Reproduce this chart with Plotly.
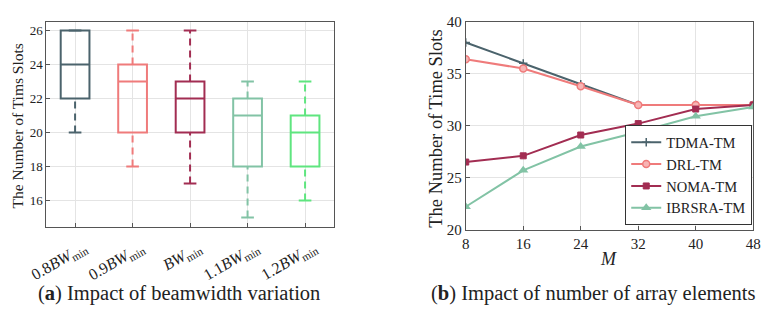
import plotly.graph_objects as go

# ---------- data: panel (a) ----------
box_labels = ["0.8<i>BW</i><sub>min</sub>", "0.9<i>BW</i><sub>min</sub>", "<i>BW</i><sub>min</sub>",
              "1.1<i>BW</i><sub>min</sub>", "1.2<i>BW</i><sub>min</sub>"]
box_pos = [1, 2, 3, 4, 5]
box_low = [20, 18, 17, 15, 16]
box_q1 = [22, 20, 20, 18, 18]
box_med = [24, 23, 22, 21, 20]
box_q3 = [26, 24, 23, 22, 21]
box_high = [26, 26, 26, 23, 23]
box_colors = ["#4b636c", "#ef7b7b", "#a22d52", "#82c3a5", "#5fe57f"]

# ---------- data: panel (b) ----------
M_vals = [8, 16, 24, 32, 40, 48]
tdma = [38.0, 36.0, 34.0, 32.0, 32.0, 32.0]
drl = [36.4, 35.5, 33.8, 32.0, 32.0, 32.0]
noma = [26.5, 27.1, 29.1, 30.2, 31.6, 32.0]
ibrsra = [22.2, 25.7, 28.0, 29.4, 30.9, 31.8]

FONT = "Liberation Serif, serif"
W, H = 775, 314
fig = go.Figure()

cap_half = 0.11
for i, p in enumerate(box_pos):
    c = box_colors[i]
    fig.add_trace(go.Box(
        x=[p], q1=[box_q1[i]], median=[box_med[i]], q3=[box_q3[i]],
        lowerfence=[box_q1[i]], upperfence=[box_q3[i]],
        width=0.5, whiskerwidth=0, fillcolor="rgba(0,0,0,0)",
        line=dict(color=c, width=2), showlegend=False, hoverinfo="skip",
        xaxis="x", yaxis="y"))
    for a, b in [(box_q3[i], box_high[i]), (box_low[i], box_q1[i])]:
        if a != b:
            fig.add_trace(go.Scatter(x=[p, p], y=[a, b], mode="lines",
                                     line=dict(color=c, width=2, dash="7px,5px"),
                                     showlegend=False, hoverinfo="skip", xaxis="x", yaxis="y"))
    for v in [box_low[i], box_high[i]]:
        fig.add_trace(go.Scatter(x=[p - cap_half, p + cap_half], y=[v, v], mode="lines",
                                 line=dict(color=c, width=2),
                                 showlegend=False, hoverinfo="skip", xaxis="x", yaxis="y"))

series = [
    ("TDMA-TM", tdma, "#4b636c", dict(symbol="cross-thin", size=6, line=dict(color="#4b636c", width=1.5))),
    ("DRL-TM", drl, "#ef7b7b", dict(symbol="circle", size=7, color="#f7b5b5", line=dict(color="#ef7b7b", width=1.5))),
    ("NOMA-TM", noma, "#a22d52", dict(symbol="square", size=6, color="#a22d52", line=dict(color="#a22d52", width=1))),
    ("IBRSRA-TM", ibrsra, "#82c3a5", dict(symbol="triangle-up", size=9, color="#82c3a5", line=dict(width=0))),
]
for name, ys, c, mk in series:
    fig.add_trace(go.Scatter(x=M_vals, y=ys, name=name, mode="lines+markers",
                             line=dict(color=c, width=2), marker=mk,
                             xaxis="x2", yaxis="y2"))

axis_common = dict(showline=True, mirror=True, linecolor="#555555", linewidth=1,
                   ticks="inside", ticklen=4, tickcolor="#555555",
                   showgrid=True, gridcolor="#e4e4e4", gridwidth=1, zeroline=False)

left_bottom = 231
right_bottom = 233.5
top = 14.5

annotations = []
for p, lab in zip(box_pos, box_labels):
    annotations.append(dict(text=lab, x=p, xref="x", y=1 - left_bottom / H, yref="paper",
                            xanchor="right", yanchor="top", xshift=18, yshift=-8, textangle=-30,
                            showarrow=False, font=dict(size=16, family=FONT, color="#222")))
annotations += [
    dict(text="The Number of Tims Slots", x=14 / W, y=1 - 124 / H, xref="paper", yref="paper",
         textangle=-90, showarrow=False, xanchor="center", yanchor="middle",
         font=dict(size=15.5, family=FONT, color="#222")),
    dict(text="The Number of Time Slots", x=438 / W, y=1 - 127 / H, xref="paper", yref="paper",
         textangle=-90, showarrow=False, xanchor="center", yanchor="middle",
         font=dict(size=18.5, family=FONT, color="#222")),
    dict(text="<i>M</i>", x=614 / W, y=1 - 265 / H, xref="paper", yref="paper",
         showarrow=False, xanchor="center", yanchor="middle",
         font=dict(size=18, family=FONT, color="#222")),
    dict(text="(<b>a</b>) Impact of beamwidth variation", x=178 / W, y=1 - 301 / H,
         xref="paper", yref="paper", xanchor="center", yanchor="middle", showarrow=False,
         font=dict(size=20.5, family=FONT, color="#222")),
    dict(text="(<b>b</b>) Impact of number of array elements", x=598 / W, y=1 - 301 / H,
         xref="paper", yref="paper", xanchor="center", yanchor="middle", showarrow=False,
         font=dict(size=20.5, family=FONT, color="#222")),
]

fig.update_layout(
    width=W, height=H, margin=dict(l=0, r=0, t=0, b=0),
    paper_bgcolor="white", plot_bgcolor="white",
    font=dict(family=FONT, color="#222222"),
    xaxis=dict(domain=[43 / W, 335 / W], range=[0.5, 5.5], tickvals=box_pos, showticklabels=False,
               anchor="y", **axis_common),
    yaxis=dict(domain=[1 - left_bottom / H, 1 - top / H], range=[14.43, 26.52], tickvals=[16, 18, 20, 22, 24, 26],
               tickfont=dict(size=13, family=FONT, color="#222"), anchor="x", **axis_common),
    xaxis2=dict(domain=[469 / W, 761 / W], range=[8, 48], tickvals=M_vals,
                tickfont=dict(size=15, family=FONT, color="#222"), anchor="y2", **axis_common),
    yaxis2=dict(domain=[1 - right_bottom / H, 1 - top / H], range=[20, 40], tickvals=[20, 25, 30, 35, 40],
                tickfont=dict(size=15, family=FONT, color="#222"), anchor="x2", **axis_common),
    legend=dict(x=760 / W, xanchor="right", y=1 - 229 / H, yanchor="bottom",
                bgcolor="white", bordercolor="#333333", borderwidth=1, itemwidth=30,
                font=dict(size=14.5, family=FONT, color="#222222"), tracegroupgap=0),
    annotations=annotations,
)

fig.write_html("out.html")
